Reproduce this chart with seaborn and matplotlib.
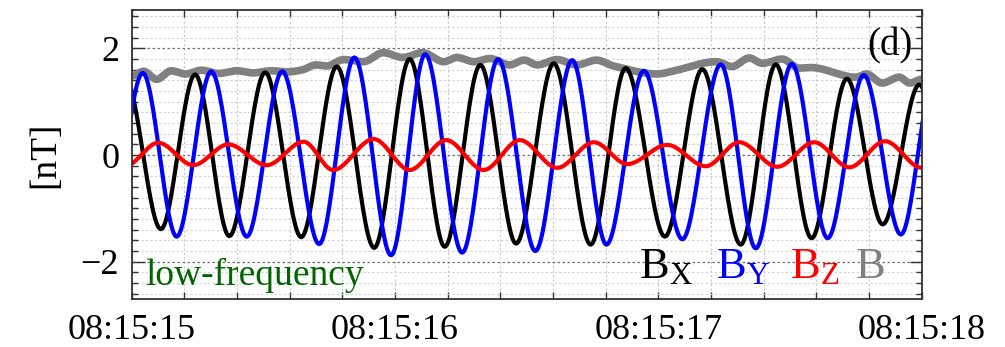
import numpy as np
import pandas as pd
import matplotlib
matplotlib.use("Agg")
import matplotlib.pyplot as plt
import seaborn as sns
from matplotlib.ticker import MultipleLocator, FuncFormatter

# ---- data: times in seconds after 08:15:00, values in nT (read at local extrema) ----
bx_t = [14.975, 15.111, 15.241, 15.371, 15.507, 15.644, 15.779, 15.921, 16.056, 16.189,
        16.324, 16.460, 16.603, 16.743, 16.876, 17.025, 17.167, 17.313, 17.446, 17.582,
        17.716, 17.852, 17.991, 18.120]
bx_v = [1.45, -1.39, 1.51, -1.52, 1.55, -1.54, 1.66, -1.74, 1.80, -1.72,
        1.69, -1.66, 1.72, -1.68, 1.63, -1.53, 1.61, -1.68, 1.70, -1.56,
        1.43, -1.30, 1.32, -1.30]

by_t = [14.910, 15.042, 15.171, 15.302, 15.437, 15.572, 15.712, 15.846, 15.985, 16.115,
        16.255, 16.392, 16.533, 16.673, 16.803, 16.945, 17.091, 17.237, 17.370, 17.507,
        17.643, 17.780, 17.921, 18.050]
by_v = [-1.50, 1.54, -1.53, 1.57, -1.53, 1.57, -1.67, 1.83, -1.88, 1.89,
        -1.83, 1.80, -1.80, 1.78, -1.68, 1.58, -1.58, 1.70, -1.75, 1.71,
        -1.56, 1.50, -1.49, 1.50]

bz_t = [14.975, 15.101, 15.234, 15.367, 15.513, 15.653, 15.765, 15.919, 16.056, 16.194,
        16.337, 16.474, 16.616, 16.755, 16.882, 17.034, 17.180, 17.307, 17.452, 17.592,
        17.725, 17.861, 18.000]
bz_v = [-0.21, 0.23, -0.19, 0.20, -0.19, 0.25, -0.28, 0.30, -0.28, 0.28,
        -0.28, 0.28, -0.24, 0.24, -0.17, 0.19, -0.21, 0.24, -0.22, 0.24,
        -0.23, 0.26, -0.24]

b_t = [15.000, 15.045, 15.095, 15.150, 15.205, 15.265, 15.330, 15.400, 15.460, 15.530,
       15.590, 15.650, 15.700, 15.740, 15.805, 15.880, 15.955, 16.030, 16.105, 16.185,
       16.235, 16.300, 16.360, 16.435, 16.490, 16.540, 16.615, 16.690, 16.765, 16.830,
       16.995, 17.060, 17.220, 17.280, 17.345, 17.395, 17.470, 17.535, 17.580, 17.750,
       17.790, 17.850, 17.915, 17.955, 18.000]
b_v = [1.48, 1.57, 1.42, 1.58, 1.52, 1.59, 1.53, 1.58, 1.54, 1.58,
       1.56, 1.60, 1.69, 1.67, 1.79, 1.75, 1.92, 1.83, 1.92, 1.75,
       1.83, 1.75, 1.81, 1.69, 1.78, 1.69, 1.79, 1.69, 1.78, 1.67,
       1.52, 1.58, 1.75, 1.66, 1.82, 1.72, 1.80, 1.63, 1.64, 1.46,
       1.52, 1.35, 1.46, 1.35, 1.42]

series_names = ["B", "Bx", "By", "Bz"]
series_colors = {"B": "#808080", "Bx": "black", "By": "#0000ff", "Bz": "#ff0000"}
series_lw = {"B": 5.5, "Bx": 3.0, "By": 3.0, "Bz": 3.0}
labels = [r"B$_\mathrm{X}$", r"B$_\mathrm{Y}$", r"B$_\mathrm{Z}$", "B"]
label_colors = ["black", "#0000ff", "#ff0000", "#808080"]
tick_seconds = [15, 16, 17, 18]


def smooth_curve(t, v, n=30):
    """Smooth Hermite curve through the read points (flat at extrema)."""
    t = np.asarray(t, float)
    v = np.asarray(v, float)
    m = np.zeros_like(v)
    for i in range(1, len(v) - 1):
        d1 = v[i] - v[i - 1]
        d2 = v[i + 1] - v[i]
        if d1 * d2 > 0:
            m[i] = (v[i + 1] - v[i - 1]) / (t[i + 1] - t[i - 1])
    xs, ys = [], []
    s = np.linspace(0, 1, n, endpoint=False)
    h00 = 2 * s**3 - 3 * s**2 + 1
    h10 = s**3 - 2 * s**2 + s
    h01 = -2 * s**3 + 3 * s**2
    h11 = s**3 - s**2
    for i in range(len(v) - 1):
        h = t[i + 1] - t[i]
        xs.append(t[i] + s * h)
        ys.append(h00 * v[i] + h10 * h * m[i] + h01 * v[i + 1] + h11 * h * m[i + 1])
    xs.append([t[-1]])
    ys.append([v[-1]])
    return np.concatenate(xs), np.concatenate(ys)


raw = {"B": (b_t, b_v), "Bx": (bx_t, bx_v), "By": (by_t, by_v), "Bz": (bz_t, bz_v)}
frames = []
for name in series_names:
    x, y = smooth_curve(*raw[name])
    frames.append(pd.DataFrame({"t": x, "val": y, "comp": name}))
df = pd.concat(frames, ignore_index=True)

# ---- style ----
sns.set_style("ticks")
plt.rcParams["font.family"] = ["Liberation Serif", "DejaVu Serif"]
plt.rcParams["mathtext.fontset"] = "custom"
plt.rcParams["mathtext.rm"] = "Liberation Serif"
plt.rcParams["mathtext.it"] = "Liberation Serif:italic"
plt.rcParams["axes.unicode_minus"] = True
plt.rcParams["text.color"] = "black"
plt.rcParams["axes.labelcolor"] = "black"
plt.rcParams["xtick.color"] = "black"
plt.rcParams["ytick.color"] = "black"

fig = plt.figure(figsize=(10.05, 3.47), dpi=100)
ax = fig.add_axes([0.1310, 0.1383, 0.7861, 0.8329])

for name in series_names:
    sub = df[df["comp"] == name]
    sns.lineplot(data=sub, x="t", y="val", ax=ax, color=series_colors[name],
                 lw=series_lw[name], estimator=None, sort=False, legend=False)

ax.set_xlim(15, 18)
ax.set_ylim(-2.7, 2.72)

ax.xaxis.set_major_locator(MultipleLocator(0.2))
ax.xaxis.set_major_formatter(FuncFormatter(
    lambda x, p: ("08:15:%02d" % round(x)) if (abs(x - round(x)) < 1e-6 and round(x) in tick_seconds) else ""))
ax.yaxis.set_major_locator(MultipleLocator(2))
ax.yaxis.set_minor_locator(MultipleLocator(0.2))

ax.tick_params(axis="both", which="both", direction="in", top=True, right=True,
               color="#333333", labelcolor="black")
ax.tick_params(axis="x", which="major", length=5, width=1.0, labelsize=26, pad=11)
ax.tick_params(axis="y", which="major", length=9, width=1.0, labelsize=26, pad=9)
ax.tick_params(axis="y", which="minor", length=4.5, width=1.0)

ax.grid(axis="x", which="major", color="#c8c8c8", lw=0.8, ls=(0, (2, 2)))
ax.grid(axis="y", which="minor", color="#d2d2d2", lw=0.8, ls=(0, (2, 2)))
ax.grid(axis="y", which="major", color="#707070", lw=0.9, ls=(0, (2, 2)))
ax.set_axisbelow(True)

for sp in ax.spines.values():
    sp.set_color("#333333")
    sp.set_linewidth(1.3)

ax.set_xlabel("")
ax.set_ylabel("[nT]", fontsize=27)
ax.yaxis.set_label_coords(-0.088, 0.5)

ax.text(0.989, 0.875, "(d)", transform=ax.transAxes, ha="right", va="center",
        fontsize=28, color="black")
ax.text(0.017, 0.048, "low-frequency", transform=ax.transAxes, ha="left",
        va="baseline", fontsize=27, color="#006400")

label_x = [0.6420, 0.7400, 0.8330, 0.9160]
for lx, lab, col in zip(label_x, labels, label_colors):
    ax.text(lx, 0.073, lab, transform=ax.transAxes, ha="left", va="baseline",
            fontsize=32, color=col)

fig.savefig("out.png", dpi=100)
